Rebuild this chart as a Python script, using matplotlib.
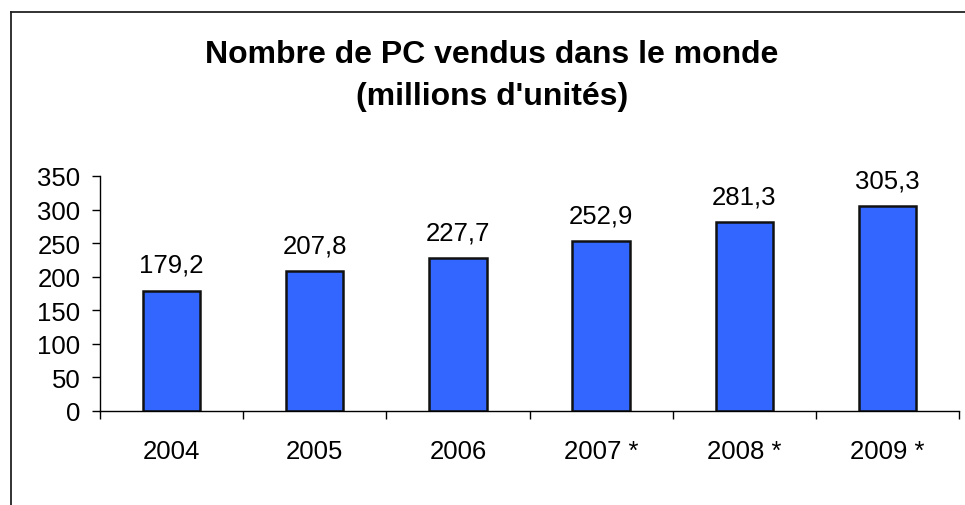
import matplotlib
matplotlib.use('Agg')
import matplotlib.pyplot as plt
from matplotlib.lines import Line2D
import numpy as np

years = ['2004', '2005', '2006', '2007 *', '2008 *', '2009 *']
ventes = [179.2, 207.8, 227.7, 252.9, 281.3, 305.3]
yticks = [0, 50, 100, 150, 200, 250, 300, 350]

plt.rcParams['font.family'] = ['Liberation Sans', 'DejaVu Sans']

fig = plt.figure(figsize=(9.65, 5.06), dpi=100)
ax = fig.add_axes([100/965, 94/506, 859/965, 235/506])

x = np.arange(len(years))
ax.bar(x, ventes, width=0.4, color='#3366FF', edgecolor='#111111', linewidth=1.8)

for xi, v in zip(x, ventes):
    ax.annotate(f'{v:.1f}'.replace('.', ','), (xi, v), xytext=(0, 14),
                textcoords='offset pixels', ha='center', va='bottom', fontsize=18.5)

ax.set_xlim(-0.5, len(years) - 0.5)
ax.set_ylim(0, 350)
ax.set_yticks(yticks)
ax.set_xticks(x)
ax.set_xticklabels(years)
ax.set_xticks(np.arange(len(years) + 1) - 0.5, minor=True)
ax.tick_params(axis='x', which='major', length=0, pad=20, labelsize=18.5)
ax.tick_params(axis='x', which='minor', length=6, width=1, direction='out')
ax.tick_params(axis='y', length=6, width=1, pad=8, labelsize=18.5)

for s in ('top', 'right'):
    ax.spines[s].set_visible(False)
ax.spines['left'].set_linewidth(1)
ax.spines['bottom'].set_linewidth(1)

fig.text(492/965, 1 - 76/506, 'Nombre de PC vendus dans le monde\n(millions d\'unités)',
         ha='center', va='center', fontsize=23, fontweight='bold', linespacing=1.5)

# cadre du graphique
fig.add_artist(Line2D([10.5/965, 10.5/965], [0, 1 - 13/506], color='#222222', lw=1.3))
fig.add_artist(Line2D([10.5/965, 1], [1 - 13/506, 1 - 13/506], color='#222222', lw=1.3))

fig.savefig('out.png', dpi=100)
